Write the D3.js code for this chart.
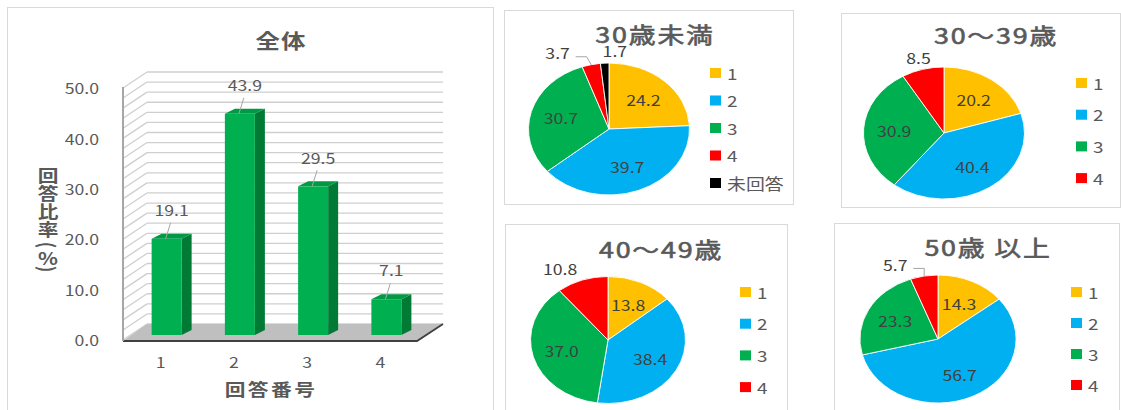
<!DOCTYPE html>
<html>
<head>
<meta charset="utf-8">
<script src="https://cdn.jsdelivr.net/npm/d3@7"></script>
<style>
  body { margin: 0; background: #fff; }
  svg { display: block; }
</style>
</head>
<body>
<svg id="chart" width="1121" height="410"></svg>
<script>
// ---- data ----
const answerCodes = ["1", "2", "3", "4"];
const overallShares = [19.1, 43.9, 29.5, 7.1];
const yTicks = [0, 10, 20, 30, 40, 50];
const gridStep = 2;

const pieCategories = ["1", "2", "3", "4", "未回答"];
const under30 = [24.2, 39.7, 30.7, 3.7, 1.7];
const age30s = [20.2, 40.4, 30.9, 8.5];
const age40s = [13.8, 38.4, 37.0, 10.8];
const age50plus = [14.3, 56.7, 23.3, 5.7];

// ---- styling ----
const FONT = "'Noto Sans CJK JP','Noto Sans',sans-serif";
const SX = 1.22;            // horizontal stretch of the whole figure
const TEXT = "#595959";
const sliceColors = ["#ffc000", "#00b0f0", "#00b050", "#ff0000", "#000000"];

const svg = d3.select("#chart");

function txt(parent, x, y, s, o = {}) {
  const t = parent.append("text")
    .attr("transform", `translate(${x},${y}) scale(${SX},1)` + (o.rotate ? ` rotate(${o.rotate})` : ""))
    .attr("text-anchor", o.anchor || "middle")
    .attr("dominant-baseline", "central")
    .style("font-family", FONT)
    .style("font-size", (o.size || 14) + "px")
    .style("font-weight", o.weight || "normal")
    .style("letter-spacing", o.ls ? o.ls + "px" : null)
    .attr("fill", o.color || TEXT)
    .text(s);
  if (o.outline) t.attr("stroke", o.color || TEXT).attr("stroke-width", o.outline);
  return t;
}

// ================= 全体: 3D column chart =================
(function drawOverall() {
  const g = svg.append("g");
  g.append("rect").attr("x", 7.5).attr("y", 7.5).attr("width", 486).attr("height", 430)
    .attr("fill", "#fff").attr("stroke", "#d9d9d9");

  txt(g, 281, 40, "全体", { size: 20, weight: "bold", ls: 1 });

  const x = d3.scaleBand().domain(answerCodes).range([124, 417]);
  const y = d3.scaleLinear().domain([0, 50]).range([340, 88]);
  const wall = [24, -16];     // depth of the back wall
  const barOff = [6, -5];     // bars stand slightly behind the front plane
  const barDepth = [10, -5];
  const barW = 30;
  const x0 = x.range()[0] - 1, x1 = x.range()[1];

  // back wall gridlines
  const gridVals = d3.range(0, 50 + 0.001, gridStep);
  g.selectAll("line.back").data(gridVals).join("line")
    .attr("x1", x0 + wall[0]).attr("x2", x1 + wall[0] + 2)
    .attr("y1", d => y(d) + wall[1]).attr("y2", d => y(d) + wall[1])
    .attr("stroke", "#cfcfcf").attr("stroke-width", 1.3);
  // side wall gridlines
  g.selectAll("line.side").data(gridVals).join("line")
    .attr("x1", x0).attr("x2", x0 + wall[0])
    .attr("y1", d => y(d)).attr("y2", d => y(d) + wall[1])
    .attr("stroke", "#cfcfcf").attr("stroke-width", 1.3);

  // floor
  const f0 = y(0);
  g.append("polygon")
    .attr("points", [[x0, f0 + 1], [x1, f0 + 1], [x1 + wall[0] + 2, f0 + wall[1]], [x0 + wall[0], f0 + wall[1]]].join(" "))
    .attr("fill", "#bfbfbf");
  g.append("polyline")
    .attr("points", [[x0, f0 + 1], [x1, f0 + 1], [x1 + wall[0] + 2, f0 + wall[1]]].join(" "))
    .attr("fill", "none").attr("stroke", "#404040").attr("stroke-width", 1.8);
  // vertical axis line
  g.append("line").attr("x1", x0).attr("x2", x0).attr("y1", y(50) - 1).attr("y2", f0 + 1)
    .attr("stroke", "#a6a6a6").attr("stroke-width", 2);

  // y tick labels
  yTicks.forEach(v => txt(g, 99, y(v), v.toFixed(1), { size: 14.5, anchor: "end" }));
  // x tick labels
  answerCodes.forEach(c => txt(g, x(c) + x.bandwidth() / 2, 362, c, { size: 14.5 }));

  // bars
  const bars = answerCodes.map((c, i) => {
    const cx = x(c) + x.bandwidth() / 2 + barOff[0];
    const left = cx - barW / 2, right = cx + barW / 2;
    const base = y(0) + barOff[1], top = y(overallShares[i]) + barOff[1];
    return { c, v: overallShares[i], cx, left, right, base, top };
  });
  const bg = g.append("g");
  bars.forEach(b => {
    bg.append("polygon")
      .attr("points", [[b.right, b.base], [b.right + barDepth[0], b.base + barDepth[1]],
        [b.right + barDepth[0], b.top + barDepth[1]], [b.right, b.top]].join(" "))
      .attr("fill", "#007a35");
    bg.append("polygon")
      .attr("points", [[b.left, b.top], [b.right, b.top], [b.right + barDepth[0], b.top + barDepth[1]],
        [b.left + barDepth[0], b.top + barDepth[1]]].join(" "))
      .attr("fill", "#009a45");
    bg.append("rect").attr("x", b.left).attr("y", b.top)
      .attr("width", barW).attr("height", b.base - b.top).attr("fill", "#00b050");
    // value label with leader
    bg.append("line")
      .attr("x1", b.cx + 4).attr("y1", b.top - 16)
      .attr("x2", b.cx - 1).attr("y2", b.top)
      .attr("stroke", "#a6a6a6").attr("stroke-width", 1);
    txt(bg, b.cx + 5, b.top - 29, b.v.toFixed(1), { size: 14.5 });
  });

  // axis titles
  txt(g, 271, 388, "回答番号", { size: 17, weight: "bold", ls: 2 });
  // vertical title, one character per line; brackets turned sideways
  const yTitle = [
    { ch: "回", y: 174 }, { ch: "答", y: 192 }, { ch: "比", y: 210 }, { ch: "率", y: 228 },
    { ch: "(", y: 245, rot: 90 }, { ch: "%", y: 257 }, { ch: ")", y: 269, rot: 90 }
  ];
  yTitle.forEach(d => txt(g, 48, d.y, d.ch, { size: 17, weight: "bold", rotate: d.rot }));
})();

// ================= age-group pies =================
function drawPie(cfg) {
  const g = svg.append("g");
  g.append("rect").attr("x", cfg.box[0] + 0.5).attr("y", cfg.box[1] + 0.5)
    .attr("width", cfg.box[2]).attr("height", cfg.box[3])
    .attr("fill", "#fff").attr("stroke", "#d9d9d9");

  txt(g, cfg.titleAt[0], cfg.titleAt[1], cfg.title, { size: 22, ls: 1.5, outline: 0.6 });

  const r = cfg.r;
  const arcs = d3.pie().sort(null).value(d => d)(cfg.values);
  const pg = g.append("g").attr("transform", `translate(${cfg.cx},${cfg.cy}) scale(${SX},1)`);
  pg.selectAll("path").data(arcs).join("path")
    .attr("d", d3.arc().innerRadius(0).outerRadius(r))
    .attr("fill", (d, i) => sliceColors[i])
    .attr("stroke", "#fff").attr("stroke-width", 0.8);

  const inner = d3.arc().innerRadius(r * 0.62).outerRadius(r * 0.62);
  const outer = d3.arc().innerRadius(r * 1.2).outerRadius(r * 1.2);
  const rim = d3.arc().innerRadius(r).outerRadius(r);
  arcs.forEach((a, i) => {
    const outside = a.data < 11;
    const [px, py] = (outside ? outer : inner).centroid(a);
    const lx = cfg.cx + px * SX + ((cfg.nudge && cfg.nudge[i]) || 0);
    const ly = cfg.cy + py + (outside ? 1 : 0);
    txt(g, lx, ly, a.data.toFixed(1), { size: 14.5, color: "#404040" });
    if (cfg.leaders && cfg.leaders.includes(i)) {
      const [ex, ey] = rim.centroid(a);
      g.append("polyline")
        .attr("points", [[lx + 18, ly + 4], [lx + 29, ly + 4], [cfg.cx + ex * SX, cfg.cy + ey]].join(" "))
        .attr("fill", "none").attr("stroke", "#a6a6a6").attr("stroke-width", 1);
    }
  });

  // legend
  const lg = g.append("g");
  cfg.values.forEach((v, i) => {
    const ly = cfg.legend.y + i * cfg.legend.step;
    lg.append("rect").attr("x", cfg.legend.x).attr("y", ly - 5)
      .attr("width", 11).attr("height", 10).attr("fill", sliceColors[i]);
    txt(lg, cfg.legend.x + 17, ly, pieCategories[i], { size: 15.5, anchor: "start" });
  });
}

drawPie({
  title: "30歳未満", values: under30, box: [504, 10, 289, 194], titleAt: [655, 34],
  cx: 609, cy: 129, r: 66, legend: { x: 710, y: 73, step: 27.5 },
  nudge: { 3: -30, 4: 11 }, leaders: [3]
});
drawPie({
  title: "30〜39歳", values: age30s, box: [841, 13, 279, 194], titleAt: [996, 35],
  cx: 944, cy: 133, r: 66, legend: { x: 1076, y: 83, step: 31.7 }
});
drawPie({
  title: "40〜49歳", values: age40s, box: [505, 224, 282, 200], titleAt: [661, 249],
  cx: 608, cy: 340, r: 63.5, legend: { x: 740, y: 292, step: 31.7 },
  nudge: { 3: -17 }
});
drawPie({
  title: "50歳 以上", values: age50plus, box: [834, 223, 285, 200], titleAt: [988, 247],
  cx: 938, cy: 339, r: 64, legend: { x: 1071, y: 292, step: 31 },
  nudge: { 3: -26 }, leaders: [3]
});
</script>
</body>
</html>
